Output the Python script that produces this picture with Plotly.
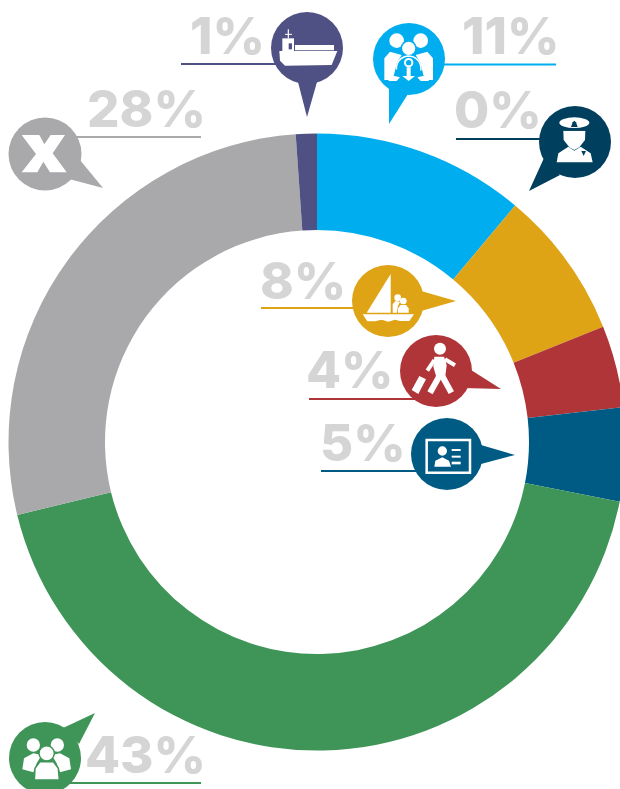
import math
import plotly.graph_objects as go

categories = ["Families", "Officers", "Boat", "Walking", "ID", "Groups", "Unknown", "Ship"]
values = [11.1, 0, 7.8, 4.3, 4.9, 43.1, 27.7, 1.1]
labels = ["11%", "0%", "8%", "4%", "5%", "43%", "28%", "1%"]
colors = ["#00AEEF", "#003F5E", "#DFA316", "#B03538", "#005B84", "#3F9558", "#A9A9AB", "#4F5083"]

W, H = 626, 789
CX, CY, R, RI = 317, 442, 308.5, 212


def px(x):
    return x / W


def py(y):
    return 1 - y / H


fig = go.Figure(go.Pie(
    labels=categories, values=values, sort=False, direction="clockwise", rotation=0,
    hole=RI / R, marker=dict(colors=colors, line=dict(width=0)), textinfo="none",
    hoverinfo="label+percent", showlegend=False,
    domain=dict(x=[px(CX - R), px(CX + R)], y=[py(CY + R), py(CY - R)]),
))

shapes = []


def poly(pts, color, lw=0, lc=None):
    d = "M " + " L ".join(f"{px(x):.5f},{py(y):.5f}" for x, y in pts) + " Z"
    shapes.append(dict(type="path", path=d, xref="paper", yref="paper", fillcolor=color,
                       line=dict(width=lw, color=lc or color), layer="above"))


def circle(cx, cy, r, color, lw=0, lc=None, ry=None):
    ry = ry if ry is not None else r
    shapes.append(dict(type="circle", xref="paper", yref="paper",
                       x0=px(cx - r), x1=px(cx + r), y0=py(cy + ry), y1=py(cy - ry),
                       fillcolor=color, line=dict(width=lw, color=lc or color), layer="above"))


def line(x0, y0, x1, y1, color, w=2):
    shapes.append(dict(type="line", xref="paper", yref="paper", x0=px(x0), x1=px(x1), y0=py(y0), y1=py(y1),
                       line=dict(color=color, width=w), layer="above"))


def rect(x0, y0, x1, y1, fill, lw=0, lc=None):
    shapes.append(dict(type="rect", xref="paper", yref="paper", x0=px(x0), x1=px(x1), y0=py(y1), y1=py(y0),
                       fillcolor=fill, line=dict(width=lw, color=lc or fill), layer="above"))


def Z(ox, oy):
    return lambda pts: [(ox + x / 3, oy + y / 3) for x, y in pts]


# pin: colour, circle, radius, triangle, underline (x0, x1, y), text right edge, text centre y
pins = [
    (7, (307, 48), 36, [(298, 82), (307, 117), (317, 82)], (181, 280, 64), 267, 36),
    (0, (409, 59), 36, [(389, 86), (389, 124), (408, 94)], (444, 556, 64.5), 562, 36),
    (1, (575, 142), 36, [(544, 158), (529, 191), (560, 175)], (456, 545, 139), 544, 109),
    (2, (388, 301), 36, [(421, 291), (456, 301), (421, 311)], (261, 355, 308), 348, 280),
    (3, (436, 371), 36, [(471, 370), (501, 389), (463, 388)], (309, 420, 399), 396, 369.5),
    (4, (447, 454), 36, [(481, 445), (515, 455), (481, 464)], (321, 420, 471), 408, 442.5),
    (6, (45, 154), 36.5, [(80, 160), (103, 188), (69, 179)], (70, 201, 137), 208, 108.5),
    (5, (45, 758), 36, [(63, 728), (95, 713), (79, 744)], (70, 201, 783), 208, 754),
]

annotations = []
for idx, c, r, tri, ul, tx, ty in pins:
    line(ul[0], ul[2], ul[1], ul[2], colors[idx], 2)
for idx, c, r, tri, ul, tx, ty in pins:
    poly(tri, colors[idx])
    circle(c[0], c[1], r, colors[idx])
    annotations.append(dict(text=labels[idx], x=px(tx), y=py(ty), xref="paper", yref="paper",
                            xanchor="right", yanchor="middle", showarrow=False,
                            font=dict(family="Inter, Roboto, sans-serif", size=51, color="#D5D5D5", weight=800)))

WH = "#FFFFFF"

# ship
z = Z(170, 0)
poly(z([(328, 153), (502, 153), (485, 195), (345, 197), (330, 182)]), WH)
poly(z([(337, 115), (372, 115), (372, 153), (337, 153)]), WH)
rect(170 + 375 / 3, 135 / 3, 170 + 492 / 3, 151 / 3, WH)
a, b = z([(355, 88), (355, 115)])
line(*a, *b, WH, 1.2)
a, b = z([(345, 103), (366, 103)])
line(*a, *b, WH, 1)
rect(170 + 356 / 3, 130 / 3, 170 + 366 / 3, 148 / 3, "#4F5083")

# family
z = Z(170, 0)
for cx in (680, 752):
    circle(170 + cx / 3, 122 / 3, 22 / 3, WH)
poly(z([(643, 240), (643, 175), (660, 155), (695, 165), (680, 190), (672, 225), (663, 240)]), WH)
poly(z([(789, 240), (789, 175), (772, 155), (737, 165), (752, 190), (760, 225), (769, 240)]), WH)
circle(170 + 716 / 3, 145 / 3, 22 / 3, WH, 1.5, "#00AEEF")
shapes.append(dict(type="path", xref="paper", yref="paper", layer="above", line=dict(color=WH, width=1.5),
                   path="M " + " L ".join(f"{px(170 + (716 + 37 * math.cos(math.radians(t))) / 3):.5f},"
                                          f"{py((205 - 37 * math.sin(math.radians(t))) / 3):.5f}"
                                          for t in range(-10, 195, 15))))
circle(170 + 716 / 3, 188 / 3, 11 / 3, "#00AEEF", 2, WH)
poly(z([(710, 202), (722, 202), (722, 228), (735, 228), (716, 243), (697, 228), (710, 228)]), WH)
poly(z([(663, 226), (690, 232), (680, 243), (655, 243)]), WH)
poly(z([(769, 226), (742, 232), (752, 243), (777, 243)]), WH)

# officer
z = Z(170, 0)
poly(z([(1160, 487), (1165, 460), (1195, 440), (1213, 452), (1232, 440), (1262, 460), (1268, 487)]), WH)
poly(z([(1180, 392), (1246, 392), (1245, 420), (1228, 442), (1213, 450), (1198, 442), (1181, 420)]), WH)
circle(170 + 1213 / 3, 368 / 3, 45 / 3, WH, ry=16 / 3)
poly(z([(1203, 381), (1208, 367), (1213, 362), (1218, 367), (1223, 381)]), "#003F5E")
a, b = z([(1180, 390), (1246, 390)])
line(*a, *b, "#003F5E", 1.5)
poly(z([(1234, 453), (1248, 453), (1241, 468)]), "#003F5E")

# boat
z = Z(250, 250)
poly(z([(422, 72), (422, 188), (350, 188)]), WH)
poly(z([(338, 193), (492, 193), (478, 213), (450, 213), (435, 209), (415, 215), (395, 209), (375, 214), (352, 214)]), WH)
circle(250 + 443 / 3, 250 + 143 / 3, 10 / 3, WH)
circle(250 + 460 / 3, 250 + 153 / 3, 10 / 3, WH)
poly(z([(428, 188), (428, 162), (437, 153), (450, 155), (443, 170), (441, 188)]), WH)
poly(z([(444, 188), (444, 175), (452, 165), (468, 165), (476, 175), (476, 188)]), WH)

# walker
z = Z(250, 250)
circle(250 + 570 / 3, 250 + 296 / 3, 18 / 3, WH)
poly(z([(553, 320), (582, 320), (590, 345), (585, 385), (560, 385), (550, 350)]), WH)
for seg, w in [(((570, 375), (540, 428)), 6), (((575, 375), (604, 428)), 6),
               (((585, 328), (615, 346)), 4), (((553, 330), (532, 362)), 4)]:
    a, b = z(seg)
    line(*a, *b, WH, w)
poly(z([(508, 378), (528, 388), (505, 432), (485, 420)]), WH)

# id card
z = Z(250, 250)
x0, y0 = z([(530, 570)])[0]
x1, y1 = z([(660, 668)])[0]
rect(x0, y0, x1, y1, "#005B84", 2.5, WH)
circle(250 + 577 / 3, 250 + 603 / 3, 14 / 3, WH)
poly(z([(553, 650), (556, 632), (577, 622), (597, 632), (603, 650)]), WH)
for ya, yb in [(597, 603), (617, 623), (635, 643)]:
    x0, y0 = z([(605, ya)])[0]
    x1, y1 = z([(632, yb)])[0]
    rect(x0, y0, x1, y1, WH)

# x
z = Z(0, 80)
poly(z([(65, 165), (118, 165), (133, 193), (152, 165), (195, 165), (158, 220), (200, 277), (150, 277),
        (130, 245), (112, 277), (65, 277), (108, 222)]), WH)

# group
z = Z(0, 700)
circle(100 / 3, 700 + 135 / 3, 20 / 3, WH)
circle(172 / 3, 700 + 135 / 3, 20 / 3, WH)
poly(z([(67, 208), (72, 175), (100, 160), (125, 165), (110, 190), (100, 217)]), WH)
poly(z([(213, 208), (208, 175), (180, 160), (155, 165), (170, 190), (180, 217)]), WH)
circle(140 / 3, 700 + 160 / 3, 23 / 3, WH, 1.5, "#3F9558")
poly(z([(103, 240), (105, 205), (120, 185), (160, 185), (175, 205), (178, 240)]), WH, 1.5, "#3F9558")

fig.update_layout(width=W, height=H, margin=dict(l=0, r=0, t=0, b=0), paper_bgcolor="white",
                  plot_bgcolor="white", shapes=shapes, annotations=annotations, showlegend=False)
fig.write_html("out.html", config=dict(displayModeBar=False),
               post_script="document.body.style.margin='0';document.documentElement.style.overflow='hidden';document.body.style.overflow='hidden';")
